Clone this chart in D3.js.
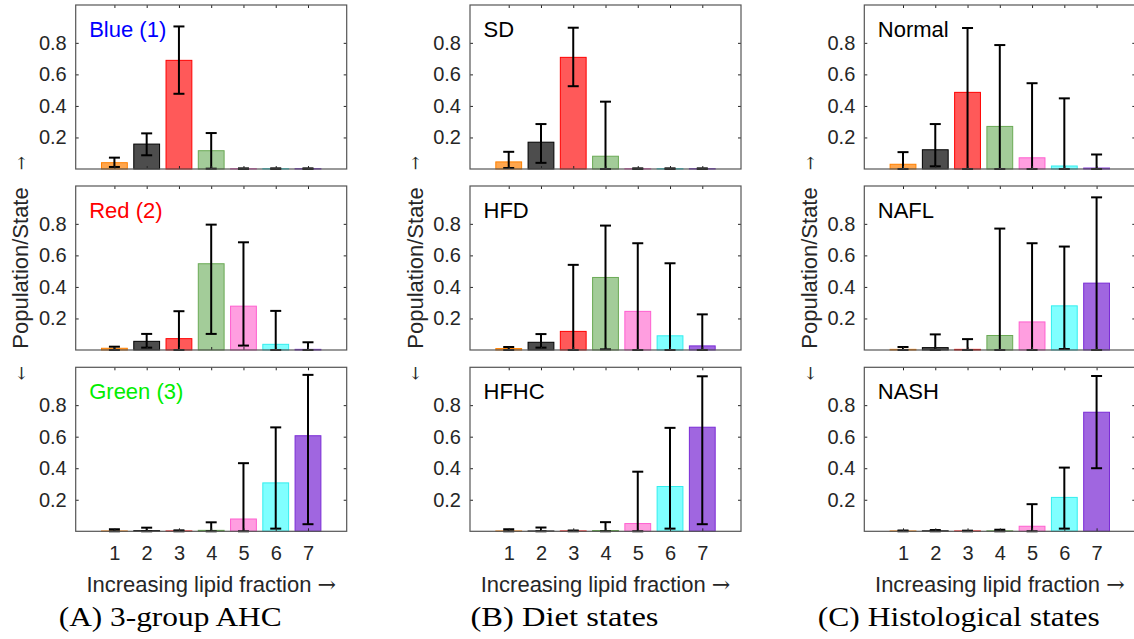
<!DOCTYPE html>
<html>
<head>
<meta charset="utf-8">
<script src="https://cdn.jsdelivr.net/npm/d3@7"></script>
<style>
  body { margin: 0; background: #fff; }
</style>
</head>
<body>
<div id="chart"></div>
<script>
//Bins on the x axis and y tick values
var bins = [1, 2, 3, 4, 5, 6, 7];
var yTicks = [0.2, 0.4, 0.6, 0.8];

var captions = ["(A) 3-group AHC", "(B) Diet states", "(C) Histological states"];
var panelLabels = [["Blue (1)", "Red (2)", "Green (3)"], ["SD", "HFD", "HFHC"], ["Normal", "NAFL", "NASH"]];
var labelColors = [["#0000ff", "#ff0000", "#00ee00"], ["#000", "#000", "#000"], ["#000", "#000", "#000"]];

//3-group AHC: mean, lower and upper end of error bar (rows = groups)
var ahcMean = [
  [0.040, 0.158, 0.689, 0.116, 0.002, 0.002, 0.002],
  [0.011, 0.055, 0.072, 0.547, 0.278, 0.036, 0.004],
  [0.002, 0.004, 0.002, 0.006, 0.078, 0.307, 0.606]];
var ahcLow = [
  [0.013, 0.087, 0.477, 0.002, 0, 0, 0],
  [0, 0.015, 0, 0.102, 0.028, 0, 0],
  [0, 0, 0, 0, 0, 0.017, 0.045]];
var ahcHigh = [
  [0.072, 0.226, 0.904, 0.228, 0.004, 0.004, 0.004],
  [0.021, 0.102, 0.246, 0.795, 0.683, 0.248, 0.049],
  [0.013, 0.023, 0.006, 0.057, 0.432, 0.659, 0.992]];

//Diet states
var dietMean = [
  [0.045, 0.170, 0.708, 0.081, 0.002, 0.002, 0.002],
  [0.009, 0.049, 0.118, 0.460, 0.245, 0.090, 0.026],
  [0.002, 0.002, 0.002, 0.005, 0.049, 0.284, 0.660]];
var dietLow = [
  [0.006, 0.039, 0.525, 0, 0, 0, 0],
  [0, 0.015, 0, 0.004, 0, 0, 0],
  [0, 0, 0, 0, 0, 0.017, 0.045]];
var dietHigh = [
  [0.109, 0.285, 0.896, 0.427, 0.004, 0.004, 0.004],
  [0.019, 0.101, 0.540, 0.789, 0.677, 0.550, 0.226],
  [0.013, 0.024, 0.005, 0.058, 0.378, 0.656, 0.983]];

//Histological states
var histMean = [
  [0.030, 0.122, 0.486, 0.270, 0.071, 0.019, 0.006],
  [0.004, 0.015, 0.004, 0.092, 0.178, 0.280, 0.424],
  [0.002, 0.003, 0.002, 0.003, 0.032, 0.215, 0.755]];
var histLow = [
  [0, 0.017, 0, 0, 0, 0, 0],
  [0, 0, 0, 0, 0, 0.006, 0],
  [0, 0, 0, 0, 0, 0.017, 0.400]];
var histHigh = [
  [0.107, 0.285, 0.894, 0.786, 0.544, 0.448, 0.092],
  [0.019, 0.099, 0.069, 0.770, 0.677, 0.656, 0.968],
  [0.005, 0.008, 0.004, 0.010, 0.172, 0.404, 0.985]];

var barFill = ["#ffa64d", "#4d4d4d", "#ff5959", "#a3cc99", "#ff9ee0", "#80ffff", "#a066e0"];
var barEdge = ["#ff8000", "#000000", "#ff0000", "#6aaa55", "#ff5fcf", "#33eeee", "#7a2bd6"];

var means = [ahcMean, dietMean, histMean];
var lows = [ahcLow, dietLow, histLow];
var highs = [ahcHigh, dietHigh, histHigh];

var SANS = "Liberation Sans, Arial, sans-serif";
var SERIF = "Liberation Serif, serif";
var ARROW = "DejaVu Serif, serif";

//Define layout
var width = 1134, height = 639;
var boxW = 271, boxH = 164;
var colLeft = [75.7, 470, 864.3];
var rowTop = [5, 186, 367.3];

var svg = d3.select("#chart")
  .append("svg")
  .attr("width", width)
  .attr("height", height)
  .style("background", "#fff");

var x = d3.scaleLinear().domain([-0.2, 8.2]).range([0, boxW]);
var y = d3.scaleLinear().domain([0, 1.04]).range([boxH, 0]);
var bw = x(0.8) - x(0);

for (var c = 0; c < 3; c++) {
  for (var r = 0; r < 3; r++) {
    drawPanel(c, r);
  }

  var cx = colLeft[c] + boxW / 2;

  //x label with serif arrow
  var xl = svg.append("text")
    .attr("x", cx)
    .attr("y", 591.7)
    .attr("text-anchor", "middle")
    .attr("font-size", 22)
    .style("font-family", SANS)
    .attr("fill", "#262626");
  xl.append("tspan").text("Increasing lipid fraction ");
  xl.append("tspan").style("font-family", ARROW).text("→");

  //y label with arrows (rotated text reads bottom to top)
  var yx = colLeft[c] - 55;
  svg.append("text")
    .attr("transform", "translate(" + yx + "," + (rowTop[1] + boxH / 2) + ") rotate(-90)")
    .attr("text-anchor", "middle")
    .attr("dy", "0.35em")
    .attr("font-size", 22)
    .style("font-family", SANS)
    .attr("fill", "#262626")
    .text("Population/State");
  svg.append("text")
    .attr("transform", "translate(" + (yx + 1) + ",163) rotate(-90)")
    .attr("dy", "0.32em")
    .attr("text-anchor", "middle")
    .attr("font-size", 17)
    .style("font-family", ARROW)
    .attr("fill", "#262626")
    .text("→");
  svg.append("text")
    .attr("transform", "translate(" + (yx + 1) + ",373) rotate(-90)")
    .attr("dy", "0.32em")
    .attr("text-anchor", "middle")
    .attr("font-size", 17)
    .style("font-family", ARROW)
    .attr("fill", "#262626")
    .text("←");

  //subfigure caption
  var capW = [223, 188, 282];
  svg.append("text")
    .attr("x", colLeft[c] + 94.5 - capW[c] / 2)
    .attr("y", 626)
    .attr("font-size", 28)
    .style("font-family", SERIF)
    .attr("fill", "#000")
    .attr("textLength", capW[c])
    .attr("lengthAdjust", "spacingAndGlyphs")
    .text(captions[c]);
}

function drawPanel(c, r) {
  var g = svg.append("g")
    .attr("transform", "translate(" + colLeft[c] + "," + rowTop[r] + ")");

  var data = bins.map(function(b, i) {
    return { bin: b, i: i, v: means[c][r][i], lo: lows[c][r][i], hi: highs[c][r][i] };
  });

  //bars
  g.selectAll("rect.bar")
    .data(data)
    .enter().append("rect")
      .attr("class", "bar")
      .attr("x", function(d) { return x(d.bin) - bw / 2; })
      .attr("y", function(d) { return y(d.v); })
      .attr("width", bw)
      .attr("height", function(d) { return y(0) - y(d.v); })
      .attr("fill", function(d) { return barFill[d.i]; })
      .attr("stroke", function(d) { return barEdge[d.i]; })
      .attr("stroke-width", 1);

  //error bars
  var eb = g.selectAll("g.err")
    .data(data)
    .enter().append("g")
      .attr("class", "err")
      .attr("stroke", "#000")
      .attr("stroke-width", 2);
  eb.append("line")
    .attr("x1", function(d) { return x(d.bin); })
    .attr("x2", function(d) { return x(d.bin); })
    .attr("y1", function(d) { return y(d.lo); })
    .attr("y2", function(d) { return y(d.hi); });
  eb.append("line")
    .attr("x1", function(d) { return x(d.bin) - 5.5; })
    .attr("x2", function(d) { return x(d.bin) + 5.5; })
    .attr("y1", function(d) { return y(d.hi); })
    .attr("y2", function(d) { return y(d.hi); });
  eb.append("line")
    .attr("x1", function(d) { return x(d.bin) - 5.5; })
    .attr("x2", function(d) { return x(d.bin) + 5.5; })
    .attr("y1", function(d) { return y(d.lo); })
    .attr("y2", function(d) { return y(d.lo); });

  //axes with inward ticks
  var left = g.append("g")
    .call(d3.axisLeft(y).tickValues(yTicks).tickSizeInner(-3).tickSizeOuter(0)
      .tickPadding(9).tickFormat(d3.format(".1f")));
  left.select(".domain").remove();
  left.selectAll("text").attr("font-size", 20).attr("fill", "#262626")
    .style("font-family", SANS);
  left.selectAll("line").attr("stroke", "#262626");

  var right = g.append("g")
    .attr("transform", "translate(" + boxW + ",0)")
    .call(d3.axisRight(y).tickValues(yTicks).tickSizeInner(-3).tickSizeOuter(0).tickFormat(""));
  right.select(".domain").remove();
  right.selectAll("line").attr("stroke", "#262626");

  var top = g.append("g")
    .call(d3.axisTop(x).tickValues(bins).tickSizeInner(-3).tickSizeOuter(0).tickFormat(""));
  top.select(".domain").remove();
  top.selectAll("line").attr("stroke", "#262626");

  var bottom = g.append("g")
    .attr("transform", "translate(0," + boxH + ")")
    .call(d3.axisBottom(x).tickValues(bins).tickSizeInner(-3).tickSizeOuter(0)
      .tickPadding(15).tickFormat(r === 2 ? d3.format("d") : ""));
  bottom.select(".domain").remove();
  bottom.selectAll("text").attr("font-size", 20).attr("fill", "#262626")
    .style("font-family", SANS);
  bottom.selectAll("line").attr("stroke", "#262626");

  //box
  g.append("rect")
    .attr("x", 0)
    .attr("y", 0)
    .attr("width", boxW)
    .attr("height", boxH)
    .attr("fill", "none")
    .attr("stroke", "#555")
    .attr("stroke-width", 1.2);

  //panel label
  g.append("text")
    .attr("x", 13.5)
    .attr("y", 32)
    .attr("font-size", 22)
    .style("font-family", SANS)
    .attr("fill", labelColors[c][r])
    .text(panelLabels[c][r]);
}
</script>
</body>
</html>
